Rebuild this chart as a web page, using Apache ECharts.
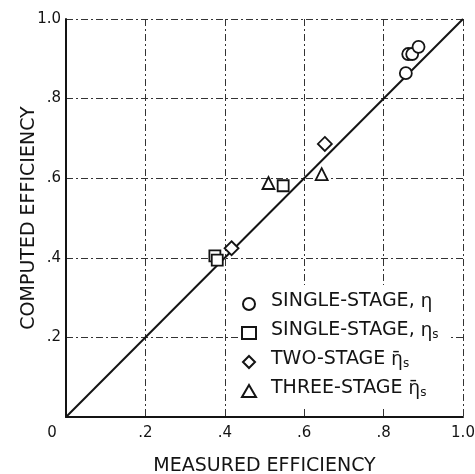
<!DOCTYPE html>
<html><head><meta charset="utf-8">
<script src="https://cdn.jsdelivr.net/npm/echarts@6/dist/echarts.min.js"></script>
<style>html,body{margin:0;padding:0;background:#fff}#c{width:475px;height:474px}</style>
</head><body><div id="c"></div>
<script>
const xTicks = [0, 0.2, 0.4, 0.6, 0.8, 1.0];
const tickLabels = ['0', '.2', '.4', '.6', '.8', '1.0'];
const singleEta = [[0.856, 0.864], [0.862, 0.912], [0.872, 0.912], [0.888, 0.930]];
const singleEtaS = [[0.375, 0.405], [0.381, 0.394], [0.547, 0.581]];
const twoStage = [[0.417, 0.424], [0.652, 0.686]];
const threeStage = [[0.510, 0.588], [0.644, 0.610]];
const identityLine = [[0, 0], [1, 1]];
const names = ['SINGLE-STAGE, η', 'SINGLE-STAGE, ηs', 'TWO-STAGE η̄s', 'THREE-STAGE η̄s'];
const richNames = {
  'SINGLE-STAGE, η': '{g| }{t|SINGLE-STAGE, }{e|η}',
  'SINGLE-STAGE, ηs': '{g| }{t|SINGLE-STAGE, }{e|η}{s|s}',
  'TWO-STAGE η̄s': '{g| }{t|TWO-STAGE }{e|η̄}{s|s}',
  'THREE-STAGE η̄s': '{g| }{t|THREE-STAGE }{e|η̄}{s|s}'
};
const ink = '#141414';
const FONT = 'DejaVu Sans';
const chart = echarts.init(document.getElementById('c'));
const gridLine = {show: true, lineStyle: {color: '#333', width: 1, type: [7, 3, 2, 3]}};
const mk = (name, data, symbol, size) => ({
  name, type: 'scatter', data, symbol, symbolSize: size,
  itemStyle: {color: '#fff', borderColor: ink, borderWidth: 1.8, opacity: 1},
  z: 5
});
chart.setOption({
  animation: false,
  backgroundColor: '#fff',
  textStyle: {fontFamily: FONT, color: ink},
  grid: {left: 66, right: 12, top: 19, bottom: 57, containLabel: false, outerBoundsMode: 'none'},
  xAxis: {
    type: 'value', min: 0, max: 1, interval: 0.2,
    name: 'MEASURED EFFICIENCY', nameLocation: 'middle', nameGap: 40,
    nameMoveOverlap: false,
    nameTextStyle: {fontFamily: FONT, fontSize: 19, color: ink},
    axisLine: {show: true, lineStyle: {color: ink, width: 2}},
    axisTick: {show: false},
    axisLabel: {
      fontFamily: FONT, fontSize: 15, color: ink, margin: 9,
      formatter: v => {
        const i = xTicks.findIndex(t => Math.abs(t - v) < 1e-6);
        const s = i >= 0 ? tickLabels[i] : '';
        return v === 0 ? '{z|' + s + '}' : s;
      },
      rich: {z: {fontFamily: FONT, fontSize: 15, color: ink, padding: [0, 28, 0, 0]}}
    },
    splitLine: gridLine
  },
  yAxis: {
    type: 'value', min: 0, max: 1, interval: 0.2,
    name: 'COMPUTED EFFICIENCY', nameLocation: 'middle', nameGap: 27,
    nameMoveOverlap: false,
    nameTextStyle: {fontFamily: FONT, fontSize: 19, color: ink},
    axisLine: {show: true, lineStyle: {color: ink, width: 2}},
    axisTick: {show: false},
    axisLabel: {
      fontFamily: FONT, fontSize: 15, color: ink, margin: 5,
      showMinLabel: false,
      formatter: v => {
        if (v === 0) return '';
        const i = xTicks.findIndex(t => Math.abs(t - v) < 1e-6);
        return i >= 0 ? tickLabels[i] : '';
      }
    },
    splitLine: gridLine
  },
  legend: {
    orient: 'vertical', left: 238, top: 285,
    itemWidth: 14, itemHeight: 12, itemGap: 5,
    padding: [7, 12, 5, 3],
    backgroundColor: '#fff',
    data: names,
    formatter: n => richNames[n],
    textStyle: {
      fontFamily: FONT, color: ink,
      rich: {
        g: {fontSize: 6, width: 10, lineHeight: 16, padding: [0, 0, 5, 0]},
        t: {fontFamily: FONT, fontSize: 19, color: ink, lineHeight: 16, padding: [0, 0, 5, 0]},
        e: {fontFamily: 'Noto Sans', fontSize: 19, color: ink, lineHeight: 16, padding: [0, 0, 5, 0]},
        s: {fontFamily: FONT, fontSize: 12, color: ink, lineHeight: 13, verticalAlign: 'bottom'}
      }
    }
  },
  series: [
    {type: 'line', data: identityLine, symbol: 'none', lineStyle: {color: ink, width: 2}, z: 3, silent: true},
    mk(names[0], singleEta, 'circle', 12),
    mk(names[1], singleEtaS, 'rect', 11),
    mk(names[2], twoStage, 'path://M0,-1L1,0L0,1L-1,0Z', 14),
    mk(names[3], threeStage, 'triangle', 12)
  ]
});
</script></body></html>
